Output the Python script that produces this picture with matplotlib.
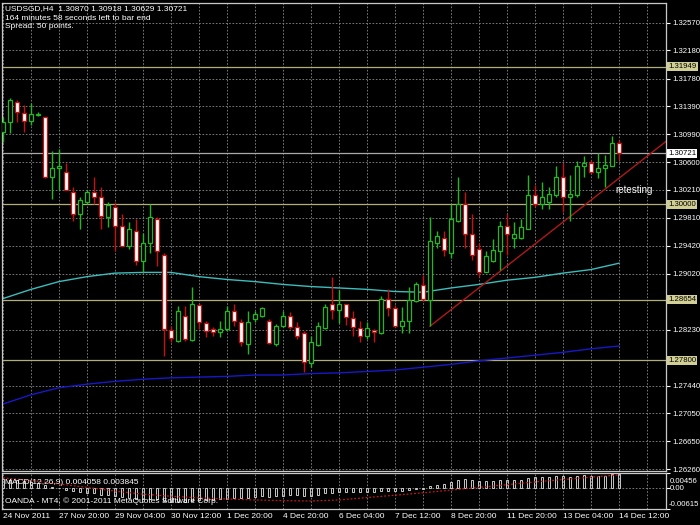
import numpy as np
import matplotlib.pyplot as plt
from matplotlib.transforms import blended_transform_factory

plt.rcParams['font.family'] = ['Liberation Sans', 'DejaVu Sans']

# ---------------------------------------------------------------------------
#  USDSGD H4 candles, 24 Nov 2011 .. 14 Dec 2011
# ---------------------------------------------------------------------------
opens = [1.3103, 1.3116, 1.3145, 1.3130, 1.3118, 1.3127, 1.3123, 1.3039, 1.3051, 1.3046,
         1.3018, 1.2987, 1.3003, 1.3017, 1.3011, 1.2983, 1.2997, 1.2969, 1.2942, 1.2962,
         1.2920, 1.2946, 1.2980, 1.2929, 1.2822, 1.2807, 1.2842, 1.2808, 1.2858, 1.2832,
         1.2824, 1.2820, 1.2824, 1.2849, 1.2834, 1.2803, 1.2838, 1.2842, 1.2836, 1.2803,
         1.2828, 1.2842, 1.2827, 1.2818, 1.2776, 1.2801, 1.2825, 1.2859, 1.2851, 1.2859,
         1.2839, 1.2825, 1.2814, 1.2822, 1.2818, 1.2866, 1.2853, 1.2828, 1.2835, 1.2863,
         1.2886, 1.2865, 1.2946, 1.2953, 1.2932, 1.2977, 1.3000, 1.2958, 1.2937, 1.2905,
         1.2920, 1.2934, 1.2969, 1.2953, 1.2952, 1.2966, 1.3013, 1.3000, 1.3003, 1.3014,
         1.3039, 1.3011, 1.3013, 1.3054, 1.3059, 1.3046, 1.3051, 1.3055, 1.30870]
highs = [1.3123, 1.3151, 1.3148, 1.3141, 1.3144, 1.3131, 1.3124, 1.3076, 1.3079, 1.3059,
         1.3024, 1.3010, 1.3021, 1.3039, 1.3025, 1.3004, 1.3003, 1.2986, 1.2975, 1.2979,
         1.2960, 1.3000, 1.2983, 1.2932, 1.2828, 1.2856, 1.2856, 1.2883, 1.2859, 1.2835,
         1.2827, 1.2835, 1.2856, 1.2859, 1.2838, 1.2849, 1.2849, 1.2855, 1.2838, 1.2831,
         1.2849, 1.2848, 1.2834, 1.2821, 1.2814, 1.2834, 1.2859, 1.2897, 1.2879, 1.2860,
         1.2849, 1.2835, 1.2834, 1.2824, 1.2870, 1.2880, 1.2858, 1.2855, 1.2883, 1.2891,
         1.2901, 1.2983, 1.2962, 1.2962, 1.3001, 1.3039, 1.3017, 1.2986, 1.2946, 1.2934,
         1.2951, 1.2976, 1.2986, 1.2975, 1.2979, 1.3042, 1.3028, 1.3032, 1.3025, 1.3054,
         1.3059, 1.3042, 1.3061, 1.3069, 1.3063, 1.3073, 1.3070, 1.3097, 1.30918]
lows = [1.3089, 1.3101, 1.3116, 1.3103, 1.3113, 1.3125, 1.3038, 1.3008, 1.3021, 1.3020,
        1.2977, 1.2965, 1.3000, 1.3000, 1.2965, 1.2968, 1.2934, 1.2941, 1.2937, 1.2915,
        1.2905, 1.2932, 1.2913, 1.2786, 1.2805, 1.2805, 1.2807, 1.2807, 1.2824, 1.2812,
        1.2814, 1.2812, 1.2821, 1.2828, 1.2800, 1.2788, 1.2834, 1.2841, 1.2803, 1.2800,
        1.2827, 1.2824, 1.2810, 1.2763, 1.2770, 1.2800, 1.2824, 1.2838, 1.2832, 1.2829,
        1.2814, 1.2805, 1.2810, 1.2805, 1.2817, 1.2842, 1.2827, 1.2819, 1.2819, 1.2862,
        1.2863, 1.2828, 1.2939, 1.2927, 1.2925, 1.2975, 1.2939, 1.2922, 1.2898, 1.2904,
        1.2918, 1.2908, 1.2929, 1.2939, 1.2951, 1.2965, 1.2997, 1.2993, 1.2993, 1.3011,
        1.2989, 1.2976, 1.3011, 1.3039, 1.3045, 1.3038, 1.3025, 1.3054, 1.30629]
closes = [1.3117, 1.3148, 1.3131, 1.3118, 1.3128, 1.3128, 1.3039, 1.3052, 1.3055, 1.3021,
          1.2987, 1.3006, 1.3017, 1.3011, 1.2984, 1.2999, 1.2970, 1.2942, 1.2965, 1.2920,
          1.2946, 1.2982, 1.2934, 1.2824, 1.2811, 1.2849, 1.2810, 1.2859, 1.2834, 1.2821,
          1.2820, 1.2824, 1.2849, 1.2835, 1.2805, 1.2834, 1.2845, 1.2853, 1.2804, 1.2828,
          1.2842, 1.2827, 1.2814, 1.2777, 1.2805, 1.2828, 1.2855, 1.2851, 1.2860, 1.2841,
          1.2827, 1.2814, 1.2825, 1.2820, 1.2867, 1.2853, 1.2828, 1.2836, 1.2865, 1.2887,
          1.2866, 1.2948, 1.2955, 1.2935, 1.2979, 1.3001, 1.2958, 1.2928, 1.2905, 1.2927,
          1.2935, 1.2970, 1.2958, 1.2958, 1.2968, 1.3014, 1.3000, 1.3010, 1.3015, 1.3039,
          1.3011, 1.3015, 1.3054, 1.3059, 1.3046, 1.3052, 1.3056, 1.3087, 1.30721]

# moving averages, sampled every 4th bar
ma_bars = list(range(0, 89, 4))
ma_fast = [1.2867, 1.2880, 1.2891, 1.2898, 1.2903, 1.2904, 1.2904, 1.2898, 1.2894, 1.2891,
           1.2887, 1.2884, 1.2882, 1.2880, 1.2877, 1.2876, 1.2882, 1.2887, 1.2893, 1.2897,
           1.2903, 1.2908, 1.2917]
ma_slow = [1.2718, 1.2731, 1.2741, 1.2746, 1.2750, 1.2753, 1.2755, 1.2756, 1.2757, 1.2759,
           1.2759, 1.2761, 1.2762, 1.2764, 1.2766, 1.2770, 1.2774, 1.2779, 1.2783, 1.2787,
           1.2791, 1.2796, 1.2800]

# MACD(12,26,9): main as histogram, signal as dotted line
macd_main = [0.0026, 0.0025, 0.0023, 0.0020, 0.0017, 0.0014, 0.0008, 0.0003, -0.0001, -0.0005,
             -0.0009, -0.0012, -0.0014, -0.0016, -0.0019, -0.0021, -0.0024, -0.0027, -0.0028, -0.0031,
             -0.0032, -0.0031, -0.0032, -0.0038, -0.0041, -0.0040, -0.0040, -0.0037, -0.0036, -0.0035,
             -0.0034, -0.0033, -0.0031, -0.0030, -0.0030, -0.0028, -0.0026, -0.0024, -0.0025, -0.0024,
             -0.0022, -0.0021, -0.0021, -0.0023, -0.0022, -0.0020, -0.0016, -0.0014, -0.0012, -0.0012,
             -0.0012, -0.0013, -0.0013, -0.0013, -0.0010, -0.0008, -0.0008, -0.0008, -0.0006, -0.0003,
             -0.0002, 0.0005, 0.0010, 0.0012, 0.0018, 0.0025, 0.0026, 0.0025, 0.0022, 0.0021,
             0.0021, 0.0024, 0.0024, 0.0024, 0.0025, 0.0030, 0.0031, 0.0031, 0.0032, 0.0035,
             0.0034, 0.0033, 0.0036, 0.0037, 0.0036, 0.0036, 0.0036, 0.0040, 0.004058]
macd_signal = [0.0030, 0.0022, 0.0012, 0.0002, -0.0009, -0.0018, -0.0024, -0.0029, -0.0032, -0.0035,
               -0.0037, -0.0038, -0.0035, -0.0028, -0.0021, -0.0014, -0.0006, 0.0002, 0.0010, 0.0018,
               0.0025, 0.0032, 0.003845]

# trendline anchors (bar index, price)
trend_bars = [61, 94.7]
trend_prices = [1.2828, 1.3089]

levels = [1.31949, 1.30000, 1.28654, 1.27800]
bid = 1.30721

price_ticks = [1.32570, 1.32180, 1.31780, 1.31390, 1.30990, 1.30600, 1.30210, 1.29810,
               1.29420, 1.29020, 1.28230, 1.27440, 1.27050, 1.26650, 1.26260]
time_labels = ['24 Nov 2011', '27 Nov 20:00', '29 Nov 04:00', '30 Nov 12:00', '1 Dec 20:00',
               '4 Dec 20:00', '6 Dec 04:00', '7 Dec 12:00', '8 Dec 20:00', '11 Dec 20:00',
               '13 Dec 04:00', '14 Dec 12:00']
time_bars = list(range(0, 89, 8))

BULL = '#22b822'
BEAR = '#c81010'
GRID = '#8a8a8a'
KHAKI = '#b0ae7c'
W, H = 700, 525
FS = 5.6

fig = plt.figure(figsize=(7, 5.25), dpi=100)
fig.patch.set_facecolor('black')

def box(left, top, right, bottom):
    return [left / W, 1 - bottom / H, (right - left) / W, (bottom - top) / H]

ax = fig.add_axes(box(2, 2.7, 665.7, 470.5))
ax2 = fig.add_axes(box(2, 472.5, 665.7, 509), sharex=ax)

for a in (ax, ax2):
    a.set_facecolor('black')
    for s in a.spines.values():
        s.set_color('#c8c8c8')
        s.set_linewidth(0.9)
    a.yaxis.tick_right()
    a.tick_params(axis='y', colors='white', labelsize=FS, length=3, width=0.8, pad=1.5)
    for gx in range(0, 96, 4):
        a.axvline(gx, color=GRID, lw=0.6, ls=(0, (2, 2)), zorder=0)

ax.set_xlim(-0.14, 94.67)
ax.set_ylim(1.2624, 1.32852)

# ---- grid, levels
for t in price_ticks:
    ax.axhline(t, color=GRID, lw=0.6, ls=(0, (2, 2)), zorder=0)
for lv in levels:
    ax.axhline(lv, color=KHAKI, lw=0.9, zorder=1)
ax.axhline(bid, color='#a8a8a8', lw=0.9, zorder=1)

# ---- moving averages
ax.plot(ma_bars, ma_fast, color='#3cbcbc', lw=1.0, zorder=2)
ax.plot(ma_bars, ma_slow, color='#1818c8', lw=1.0, zorder=2)

# ---- candles
x = np.arange(len(opens))
o = np.array(opens); c = np.array(closes)
up = c >= o
ax.vlines(x[up], np.array(lows)[up], np.array(highs)[up], color=BULL, lw=1.0, zorder=3)
ax.vlines(x[~up], np.array(lows)[~up], np.array(highs)[~up], color=BEAR, lw=1.0, zorder=3)
body_lo = np.minimum(o, c)
body_h = np.maximum(np.abs(c - o), 0.00008)
ax.bar(x[up], body_h[up], bottom=body_lo[up], width=0.6, facecolor='black',
       edgecolor=BULL, lw=0.9, zorder=4)
ax.bar(x[~up], body_h[~up], bottom=body_lo[~up], width=0.6, facecolor='white',
       edgecolor=BEAR, lw=0.9, zorder=4)

# ---- trendline
ax.plot(trend_bars, trend_prices, color='#b01818', lw=1.0, zorder=2)
ax.text(90.2, 1.3020, 'retesting', color='white', fontsize=7, ha='center', va='center')

# ---- right price scale
ax.set_yticks(price_ticks)
ax.set_yticklabels([f'{t:.5f}' for t in price_ticks])
ytr = blended_transform_factory(ax.transAxes, ax.transData)
for lv in levels + [bid]:
    bg = 'white' if lv == bid else '#d2cf94'
    ax.text(1.004, lv, f'{lv:.5f}', transform=ytr, fontsize=FS, color='black',
            ha='left', va='center', clip_on=False,
            bbox=dict(boxstyle='square,pad=0.12', fc=bg, ec='none'))
ax.tick_params(axis='x', bottom=False, labelbottom=False)

# ---- MACD panel
ax2.set_ylim(-0.00615, 0.00456)
ax2.axhline(0, color=GRID, lw=0.6, ls=(0, (2, 2)), zorder=0)
ax2.bar(x, macd_main, width=0.35, facecolor='none', edgecolor='#c8c8c8', lw=0.7, zorder=2)
ax2.plot(ma_bars, macd_signal, color='#c01818', lw=0.9, ls=(0, (1.5, 1.5)), zorder=3)
ax2.set_yticks([0.00456, 0.0, -0.00615])
ax2.set_yticklabels(['', '', ''])
ax2.tick_params(axis='y', length=3)
fig.text(670 / W, 1 - 481.5 / H, '0.00456', color='white', fontsize=FS, va='center')
fig.text(670 / W, 1 - 488.7 / H, '0.00', color='white', fontsize=FS, va='center')
fig.text(669 / W, 1 - 504 / H, '-0.00615', color='white', fontsize=FS, va='center')

ax2.set_xticks(time_bars)
ax2.set_xticklabels(time_labels)
ax2.tick_params(axis='x', colors='white', labelsize=6, length=0, pad=3)
for lab in ax2.get_xticklabels():
    lab.set_horizontalalignment('left')

# ---- header / footer texts
fig.text(5 / W, 1 - 9 / H, 'USDSGD,H4  1.30870 1.30918 1.30629 1.30721',
         color='white', fontsize=6, va='center')
fig.text(5 / W, 1 - 18 / H, '164 minutes 58 seconds left to bar end',
         color='white', fontsize=6, va='center')
fig.text(5 / W, 1 - 27 / H, 'Spread: 50 points.', color='white', fontsize=6, va='center')
fig.text(5 / W, 1 - 482.5 / H, 'MACD(12,26,9) 0.004058 0.003845',
         color='white', fontsize=6, va='center')
fig.text(5 / W, 1 - 501 / H, 'OANDA - MT4, \u00a9 2001-2011 MetaQuotes Software Corp.',
         color='white', fontsize=6, va='center')

fig.savefig('out.png', dpi=100, facecolor='black')
